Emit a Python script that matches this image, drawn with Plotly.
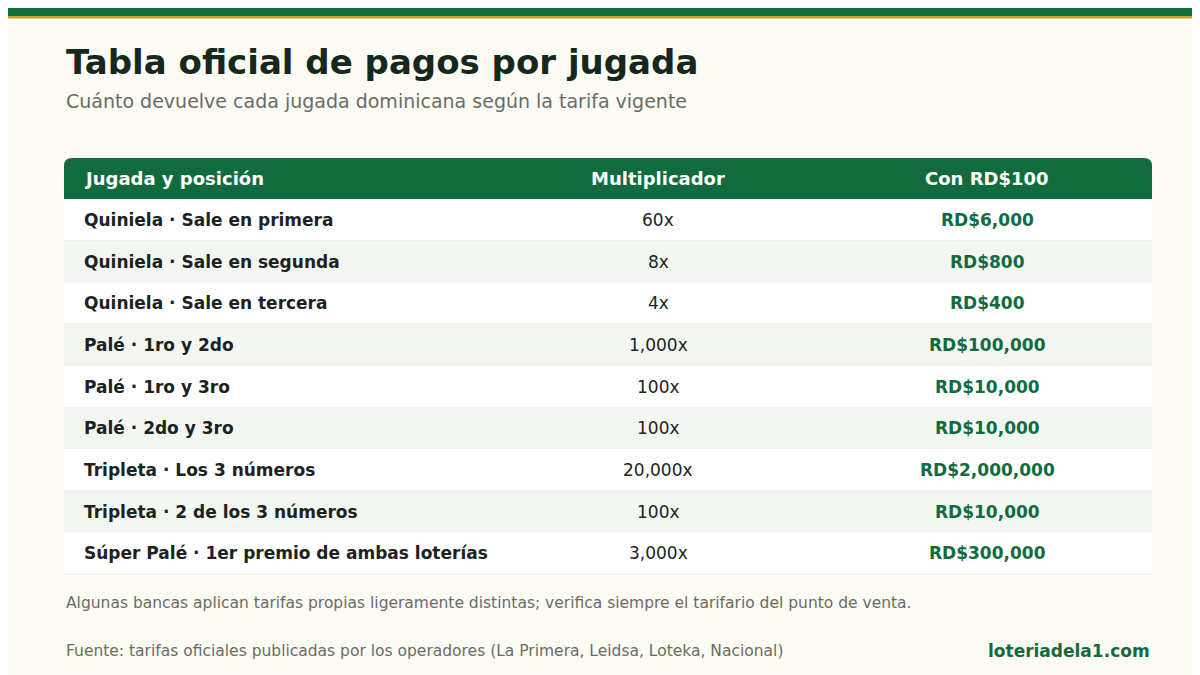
import plotly.graph_objects as go

jugadas = ["Quiniela · Sale en primera", "Quiniela · Sale en segunda", "Quiniela · Sale en tercera",
           "Palé · 1ro y 2do", "Palé · 1ro y 3ro", "Palé · 2do y 3ro",
           "Tripleta · Los 3 números", "Tripleta · 2 de los 3 números",
           "Súper Palé · 1er premio de ambas loterías"]
multiplicadores = [60, 8, 4, 1000, 100, 100, 20000, 100, 3000]
apuesta = 100
headers = ["Jugada y posición", "Multiplicador", "Con RD$100"]

W, H = 1200, 675
F = "DejaVu Sans"
GREEN = "#116b3f"
fig = go.Figure()
shapes = []
ann = []

shapes.append(dict(type="rect", x0=0, x1=W, y0=0, y1=8, fillcolor=GREEN, line_width=0))
shapes.append(dict(type="rect", x0=0, x1=W, y0=8, y1=10.5, fillcolor="#c9a227", line_width=0))

ann.append(dict(x=56, y=54, text="<b>Tabla oficial de pagos por jugada</b>", xanchor="left", yanchor="middle",
                font=dict(family=F, size=34, color="#14281c"), showarrow=False))
ann.append(dict(x=56, y=93, text="Cuánto devuelve cada jugada dominicana según la tarifa vigente", xanchor="left",
                yanchor="middle", font=dict(family=F, size=19, color="#6b6b66"), showarrow=False))

x0, x1 = 56, 1144
hy0, hy1 = 150, 191
r = 8
path = (f"M {x0},{hy1} L {x0},{hy0+r} Q {x0},{hy0} {x0+r},{hy0} L {x1-r},{hy0} Q {x1},{hy0} {x1},{hy0+r} "
        f"L {x1},{hy1} Z")
shapes.append(dict(type="path", path=path, fillcolor=GREEN, line_width=0))
hc = (hy0 + hy1) / 2
colx = [74, 650, 979]
anchors = ["left", "center", "center"]
for i, h in enumerate(headers):
    ann.append(dict(x=colx[i], y=hc, text=f"<b>{h}</b>", xanchor=anchors[i], yanchor="middle",
                    font=dict(family=F, size=18, color="white"), showarrow=False))

rh = (566 - hy1) / len(jugadas)
for i, (j, m) in enumerate(zip(jugadas, multiplicadores)):
    ya = hy1 + i * rh
    shapes.append(dict(type="rect", x0=x0, x1=x1, y0=ya, y1=ya + rh,
                       fillcolor="#ffffff" if i % 2 == 0 else "#f4f7f1", line_width=0))
    shapes.append(dict(type="line", x0=x0, x1=x1, y0=ya + rh, y1=ya + rh, line=dict(color="#e6ebe3", width=1)))
    yc = ya + rh / 2
    ann.append(dict(x=colx[0], y=yc, text=f"<b>{j}</b>", xanchor="left", yanchor="middle",
                    font=dict(family=F, size=17, color="#1c231f"), showarrow=False))
    ann.append(dict(x=colx[1], y=yc, text=f"{m:,}x", xanchor="center", yanchor="middle",
                    font=dict(family=F, size=17, color="#1c231f"), showarrow=False))
    ann.append(dict(x=colx[2], y=yc, text=f"<b>RD${m*apuesta:,}</b>", xanchor="center", yanchor="middle",
                    font=dict(family=F, size=17, color=GREEN), showarrow=False))

ann.append(dict(x=56, y=595, text="Algunas bancas aplican tarifas propias ligeramente distintas; verifica siempre el tarifario del punto de venta.",
                xanchor="left", yanchor="middle", font=dict(family=F, size=15.5, color="#6b6b66"), showarrow=False))
ann.append(dict(x=56, y=643, text="Fuente: tarifas oficiales publicadas por los operadores (La Primera, Leidsa, Loteka, Nacional)",
                xanchor="left", yanchor="middle", font=dict(family=F, size=15.5, color="#6b6b66"), showarrow=False))
ann.append(dict(x=1144, y=643, text="<b>loteriadela1.com</b>", xanchor="right", yanchor="middle",
                font=dict(family=F, size=17, color=GREEN), showarrow=False))

fig.update_layout(width=W, height=H, margin=dict(l=0, r=0, t=0, b=0),
                  paper_bgcolor="#fcfcf4", plot_bgcolor="#fcfcf4",
                  xaxis=dict(range=[0, W], visible=False, fixedrange=True),
                  yaxis=dict(range=[H, 0], visible=False, fixedrange=True),
                  shapes=shapes, annotations=ann, showlegend=False)
fig.write_html("out.html", config={"displayModeBar": False})
